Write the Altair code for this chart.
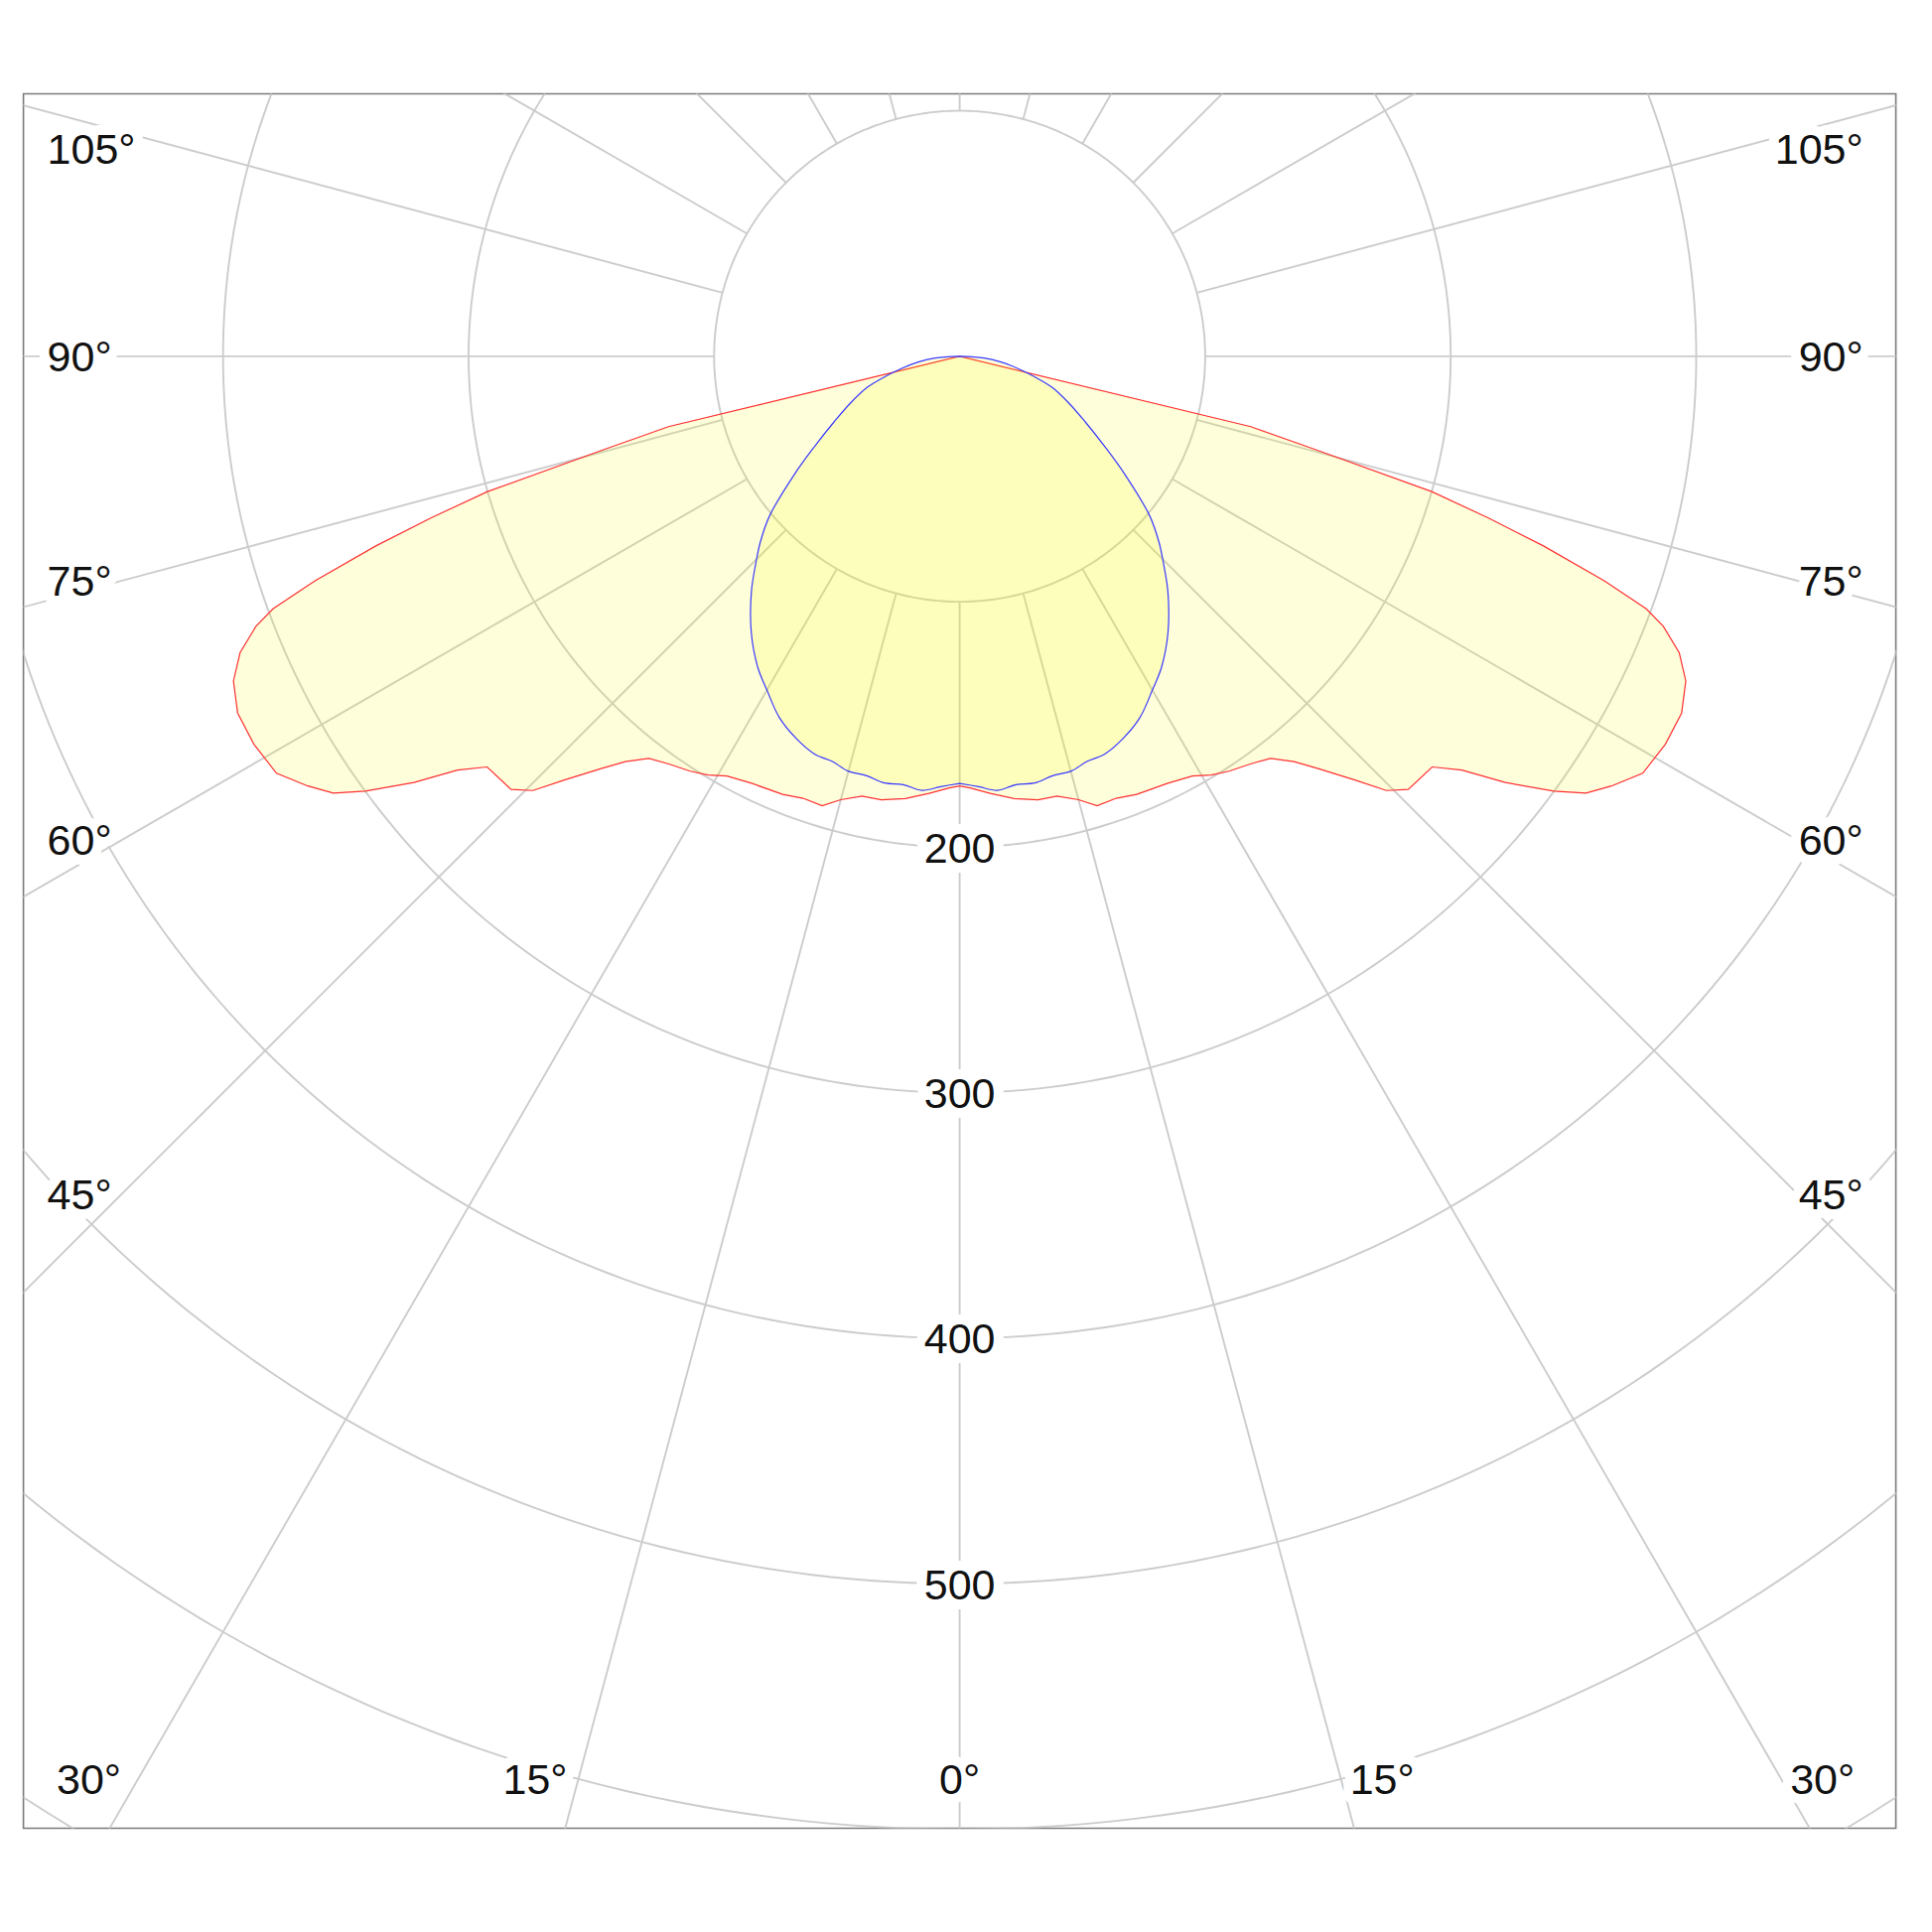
import math
import altair as alt
import pandas as pd

# ---------------- data ----------------
# Red curve (wide wings), half-profile: gamma in degrees from nadir, intensity
RED_GAMMA = [0, 1.5, 4, 7, 10, 12.5, 15, 17, 19.5, 22, 26, 29, 31, 33, 35.5, 37.7,
             39.5, 41, 43, 44.5, 46, 49, 50.5, 52, 53.8, 55.1, 56.6, 58.6, 61.2,
             63.7, 65.9, 67.6, 69.0, 69.8, 70.8, 72.0, 73.0, 74.0, 75.3, 76.4, 90]
RED_I = [175, 176, 178.5, 181.5, 183.5, 183.5, 187, 191.5, 191, 192.5, 193.5, 195.5,
         199, 201.5, 204, 207, 214, 222.5, 236, 248, 254, 255, 265, 282, 300, 311,
         318, 326, 328, 328, 324, 317, 307, 298, 278, 250, 225, 200, 150, 122, 0]

# Blue curve (narrow), half-profile
BLUE_GAMMA = [0, 2.5, 5, 7.5, 10, 12.5, 15, 17.5, 20, 23, 26.5, 30, 33, 37, 41.5,
              44.5, 47, 50, 54.5, 58, 62.5, 67, 71.5, 75, 78, 82, 86, 90]
BLUE_I = [174, 175.5, 177.5, 176, 176.5, 175, 175, 173, 172.5, 169.5, 164.5, 157,
          151, 141, 128, 118.5, 111, 101, 82.5, 70, 57.5, 48, 39.5, 31, 24.5, 17,
          10, 0]

RINGS = [100, 200, 300, 400, 500, 600, 700]
SPOKES = list(range(0, 360, 15))
RING_LABELS = [200, 300, 400, 500]
SIDE_ANGLES = [45, 60, 75, 90, 105]
BOTTOM_ANGLES = [15, 30]

# ---------------- layout ----------------
W, H = 1886, 1747
X_DOM = [-381.3, 381.3]
Y_DOM = [-599.6, 106.9]
PX = W / (X_DOM[1] - X_DOM[0])          # pixels per intensity unit
FONT = "Liberation Sans"
FS = 43
GRID = "#cccccc"


def char_w(s):
    return sum(0.4 * FS if c == "°" else 0.556 * FS for c in s)


# polygon tables built from the half profiles (mirrored)
def polygon(g, v, name):
    gs = [-a for a in reversed(g)] + list(g)
    vs = list(reversed(v)) + list(v)
    return pd.DataFrame({"gamma": gs, "I": vs, "ord": range(len(gs)), "s": name})


red_df = polygon(RED_GAMMA, RED_I, "red")
blue_df = polygon(BLUE_GAMMA, BLUE_I, "blue")

xs = alt.Scale(domain=X_DOM, nice=False, zero=False)
ys = alt.Scale(domain=Y_DOM, nice=False, zero=False)
X = alt.X("x:Q", scale=xs, axis=None)
Y = alt.Y("y:Q", scale=ys, axis=None)

rings = alt.Chart(pd.DataFrame({"r": RINGS})).transform_calculate(
    t="sequence(0, 361, 1)"
).transform_flatten(["t"]).transform_calculate(
    x="datum.r * sin(datum.t * PI / 180)",
    y="-datum.r * cos(datum.t * PI / 180)",
).mark_line(stroke=GRID, strokeWidth=1.9, clip=True).encode(
    X, Y, detail="r:N", order="t:Q")

spokes = alt.Chart(pd.DataFrame({"a": SPOKES})).transform_calculate(
    rr="[100, 900]"
).transform_flatten(["rr"]).transform_calculate(
    x="datum.rr * sin(datum.a * PI / 180)",
    y="-datum.rr * cos(datum.a * PI / 180)",
).mark_line(stroke=GRID, strokeWidth=1.9, clip=True).encode(
    X, Y, detail="a:N", order="rr:Q")


def curve(df, stroke, interp):
    return alt.Chart(df).transform_calculate(
        x="datum.I * sin(datum.gamma * PI / 180)",
        y="-datum.I * cos(datum.gamma * PI / 180)",
    ).mark_line(stroke=stroke, strokeWidth=1.2, fill="#f5f500", fillOpacity=0.14,
                interpolate=interp, clip=True).encode(X, Y, order="ord:Q")


red = curve(red_df, "#ff3030", "linear")
blue = curve(blue_df, "#3a3aff", "catmull-rom")

# ---------------- labels ----------------
edge_l = 371.6                    # label outer edges, units from centre
edge_r = 368.0
side_rows = []
for a in SIDE_ANGLES:
    t = f"{a}°"
    d = (edge_l * PX - char_w(t) - 10) / PX
    y = -d * math.cos(math.radians(a)) / math.sin(math.radians(a))
    y = min(y, 84.4)
    y -= 2.3 / PX
    side_rows.append({"t": t, "y": y})

side_left = pd.DataFrame([{"x": -edge_l, **r} for r in side_rows])
side_right = pd.DataFrame([{"x": edge_r, **r} for r in side_rows])

yb = -579.6 - 2.3 / PX
bl, br = [], []
for a in BOTTOM_ANGLES:
    t = f"{a}°"
    gap = (11 + (a - 15) * 0.4) / PX
    xr = 579.6 * math.tan(math.radians(a))
    bl.append({"x": -xr - gap, "y": yb, "t": t})
    br.append({"x": xr + 9 / PX, "y": yb, "t": t})
bottom_left = pd.DataFrame(bl)
bottom_right = pd.DataFrame(br)

center_rows = [{"x": 0, "y": yb, "t": "0°"}]
for r in RING_LABELS:
    center_rows.append({"x": 0, "y": -r - 1.0, "t": str(r)})
center_df = pd.DataFrame(center_rows)


def labels(df, align):
    halo = alt.Chart(df).mark_text(
        font=FONT, fontSize=FS, align=align, baseline="middle",
        fill="white", stroke="white", strokeWidth=20, strokeJoin="round",
    ).encode(X, Y, text="t:N")
    txt = alt.Chart(df).mark_text(
        font=FONT, fontSize=FS, align=align, baseline="middle", fill="#111111",
    ).encode(X, Y, text="t:N")
    return halo + txt


chart = alt.layer(
    rings, spokes, red, blue,
    labels(side_left, "left"), labels(bottom_left, "right"),
    labels(side_right, "right"), labels(bottom_right, "left"),
    labels(center_df, "center"),
).properties(
    width=W, height=H,
    padding={"left": 15.6, "top": 86.5, "right": 10, "bottom": 10},
    autosize=alt.AutoSizeParams(type="none"),
    background="white",
).configure_view(stroke="#7a7a7a", strokeWidth=1.6)

chart.save("out.html", embed_options={"renderer": "svg", "actions": False})
